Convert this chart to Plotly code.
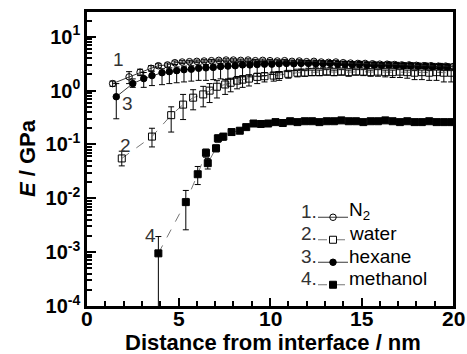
import plotly.graph_objects as go

# ---------------- data ----------------
n2_x = [1.4, 2.3, 2.9, 3.5, 3.9, 4.4, 4.8, 5.2, 5.6, 6.0, 6.4, 6.8, 7.2, 7.6, 8.0, 8.4, 8.8, 9.2, 9.6, 10.0,
        10.4, 10.8, 11.2, 11.6, 12.0, 12.4, 12.8, 13.2, 13.6, 14.0, 14.4, 14.8, 15.2, 15.6, 16.0, 16.4, 16.8,
        17.2, 17.6, 18.0, 18.4, 18.8, 19.2, 19.6, 20.0]
n2_y = [1.35, 1.8, 2.2, 2.6, 2.9, 3.0, 3.3, 3.4, 3.45, 3.5, 3.55, 3.6, 3.65, 3.7, 3.7, 3.65, 3.7, 3.6, 3.65, 3.6,
        3.55, 3.6, 3.5, 3.55, 3.45, 3.5, 3.4, 3.35, 3.4, 3.3, 3.25, 3.2, 3.2, 3.15, 3.1, 3.1, 3.05, 3.0, 3.0,
        2.95, 2.9, 2.9, 2.85, 2.85, 2.8]
n2_err = [0.15, 0.45, 0.3, 0.3, 0.25, 0.25, 0.25, 0.2, 0.2, 0.2, 0.2, 0.2, 0.2, 0.2, 0.2, 0.2, 0.2, 0.2, 0.2, 0.2,
          0.2, 0.2, 0.2, 0.2, 0.2, 0.2, 0.2, 0.2, 0.2, 0.2, 0.2, 0.2, 0.2, 0.2, 0.2, 0.2, 0.2, 0.2, 0.2,
          0.2, 0.2, 0.2, 0.2, 0.2, 0.2]

hex_x = [1.6, 2.5, 3.1, 3.55, 4.1, 4.5, 4.9, 5.3, 5.7, 6.1, 6.5, 6.9, 7.3, 7.7, 8.1, 8.5, 8.9, 9.3, 9.7, 10.1,
         10.5, 10.9, 11.3, 11.7, 12.1, 12.5, 12.9, 13.3, 13.7, 14.1, 14.5, 14.9, 15.3, 15.7, 16.1, 16.5, 16.9,
         17.3, 17.7, 18.1, 18.5, 18.9, 19.3, 19.7]
hex_y = [0.77, 1.35, 1.67, 1.9, 2.15, 2.25, 2.35, 2.45, 2.5, 2.6, 2.65, 2.7, 2.8, 2.85, 2.9, 3.0, 3.0, 3.05, 3.1,
         3.1, 3.15, 3.2, 3.15, 3.2, 3.2, 3.15, 3.15, 3.2, 3.1, 3.1, 3.05, 3.1, 3.0, 3.0, 2.95, 3.0, 2.95, 2.9,
         2.9, 2.85, 2.85, 2.8, 2.8, 2.75]
hex_err_up = [0.58, 0.3, 0.5, 0.4, 0.4, 0.4, 0.4, 0.4, 0.4, 0.4, 0.4, 0.4, 0.4, 0.4, 0.4, 0.4, 0.4, 0.4, 0.4,
              0.4, 0.4, 0.4, 0.4, 0.4, 0.4, 0.4, 0.4, 0.4, 0.4, 0.4, 0.4, 0.4, 0.4, 0.4, 0.4, 0.4, 0.4, 0.4,
              0.4, 0.4, 0.4, 0.4, 0.4, 0.4]
hex_err_dn = [0.47, 0.2, 0.52, 0.66, 0.86, 0.9, 0.95, 1.0, 1.0, 1.05, 1.1, 1.1, 1.15, 1.2, 1.2, 1.2, 1.2, 1.2,
              1.2, 1.1, 1.0, 0.9, 0.8, 0.7, 0.6, 0.5, 0.5, 0.5, 0.4, 0.4, 0.4, 0.4, 0.4, 0.3, 0.3, 0.3, 0.3,
              0.3, 0.3, 0.3, 0.3, 0.3, 0.3, 0.3]

wat_x = [1.9, 3.55, 4.6, 5.25, 5.8, 6.35, 6.7, 7.1, 7.55, 7.85, 8.2, 8.5, 8.85, 9.3, 9.7, 10.2, 10.5, 11.0,
         11.5, 11.9, 12.3, 12.7, 13.1, 13.5, 13.9, 14.3, 14.7, 15.1, 15.5, 15.9, 16.3, 16.7, 17.1, 17.5, 17.9,
         18.3, 18.7, 19.1, 19.5, 19.9]
wat_y = [0.055, 0.14, 0.35, 0.55, 0.74, 0.85, 1.0, 1.18, 1.3, 1.4, 1.53, 1.6, 1.67, 1.8, 1.85, 1.9, 1.95,
         2.05, 2.15, 2.15, 2.2, 2.2, 2.25, 2.2, 2.25, 2.2, 2.25, 2.25, 2.2, 2.25, 2.2, 2.2, 2.25, 2.2, 2.15,
         2.2, 2.15, 2.2, 2.15, 2.15]
wat_err_up = [0.02, 0.06, 0.15, 0.3, 0.3, 0.35, 0.35, 0.35, 0.3, 0.3, 0.3, 0.3, 0.3, 0.3, 0.3, 0.3, 0.3, 0.2,
              0.2, 0.2, 0.2, 0.2, 0.2, 0.2, 0.2, 0.2, 0.2, 0.2, 0.2, 0.2, 0.2, 0.2, 0.2, 0.2, 0.2, 0.2, 0.2,
              0.2, 0.2, 0.2]
wat_err_dn = [0.015, 0.05, 0.18, 0.26, 0.3, 0.35, 0.4, 0.45, 0.45, 0.45, 0.45, 0.45, 0.45, 0.45, 0.4, 0.4,
              0.4, 0.35, 0.35, 0.3, 0.3, 0.3, 0.3, 0.3, 0.3, 0.35, 0.3, 0.35, 0.35, 0.4, 0.4, 0.45, 0.5, 0.5,
              0.55, 0.6, 0.6, 0.65, 0.7, 0.7]

met_x = [3.9, 5.4, 6.05, 6.5, 6.6, 7.05, 7.15, 7.45, 7.9, 8.35, 8.7, 9.1, 9.5, 9.9, 10.3, 10.7, 11.1, 11.5,
         11.9, 12.3, 12.7, 13.1, 13.5, 13.9, 14.3, 14.7, 15.1, 15.5, 15.9, 16.3, 16.7, 17.1, 17.5, 17.9, 18.3,
         18.7, 19.1, 19.5, 19.9]
met_y = [0.00095, 0.0085, 0.028, 0.07, 0.045, 0.085, 0.13, 0.14, 0.17, 0.18, 0.21, 0.245, 0.24, 0.245, 0.26,
         0.25, 0.27, 0.26, 0.27, 0.27, 0.26, 0.27, 0.27, 0.28, 0.27, 0.27, 0.26, 0.27, 0.27, 0.28, 0.27, 0.26,
         0.27, 0.26, 0.26, 0.27, 0.26, 0.26, 0.26]
met_err_up = [0.001, 0.0055, 0.011, 0.012, 0.01, 0.012, 0.02, 0.02, 0.02, 0.02, 0.02, 0.02, 0.02, 0.02, 0.02,
              0.02, 0.02, 0.02, 0.02, 0.02, 0.02, 0.02, 0.02, 0.02, 0.02, 0.02, 0.02, 0.02, 0.02, 0.02, 0.02,
              0.02, 0.02, 0.02, 0.02, 0.02, 0.02, 0.02, 0.02]
met_err_dn = [0.00093, 0.0059, 0.01, 0.012, 0.01, 0.012, 0.02, 0.02, 0.02, 0.02, 0.02, 0.02, 0.02, 0.02, 0.02,
              0.02, 0.02, 0.02, 0.02, 0.02, 0.02, 0.02, 0.02, 0.02, 0.02, 0.02, 0.02, 0.02, 0.02, 0.02, 0.02,
              0.02, 0.02, 0.02, 0.02, 0.02, 0.02, 0.02, 0.02]

series_names = ["N<sub>2</sub>", "water", "hexane", "methanol"]
series_numbers = ["1.", "2.", "3.", "4."]
curve_labels = ["1", "2", "3", "4"]
y_tickvals = [1e-4, 1e-3, 1e-2, 1e-1, 1, 10]
y_ticktext = ["<b>10<sup>-4</sup></b>", "<b>10<sup>-3</sup></b>", "<b>10<sup>-2</sup></b>",
              "<b>10<sup>-1</sup></b>", "<b>10<sup>0</sup></b>", "<b>10<sup>1</sup></b>"]
x_tickvals = [0, 5, 10, 15, 20]
x_ticktext = ["0", "5", "10", "15", "20"]

FONT = "Liberation Sans, Arial, sans-serif"

fig = go.Figure()


def add(x, y, up, dn, symbol, dash, lcolor, rank):
    fig.add_trace(go.Scatter(
        x=x, y=y, name=" ", mode="lines+markers", legendrank=rank,
        line=dict(color=lcolor, width=0.9, dash=dash),
        marker=dict(symbol=symbol, size=7 if "square" in symbol else 6.5, color="black",
                    line=dict(color="black", width=1)),
        error_y=dict(type="data", array=up, arrayminus=dn, color="black", thickness=1, width=3),
    ))


add(met_x, met_y, met_err_up, met_err_dn, "square", "dash", "#666666", 4)
add(wat_x, wat_y, wat_err_up, wat_err_dn, "square-open", "dash", "#666666", 2)
add(hex_x, hex_y, hex_err_up, hex_err_dn, "circle", "solid", "#222222", 3)
add(n2_x, n2_y, n2_err, n2_err, "circle-open", "solid", "#222222", 1)


def px_x(p):
    return (p - 87) / 366


def px_y(p):
    return (306 - p) / 294


annotations = []
# x tick labels, tied to the x axis values
for v, t in zip(x_tickvals, x_ticktext):
    annotations.append(dict(x=v, y=px_y(318), xref="x", yref="paper", text="<b>" + t + "</b>",
                            showarrow=False, xanchor="center", yanchor="middle", borderpad=0,
                            font=dict(family=FONT, size=21, color="black")))
# curve number labels (data coords; y in log10 units)
for txt, ax, ay in zip(curve_labels, [1.7, 2.08, 2.2, 3.45], [0.57, -1.02, -0.24, -2.69]):
    annotations.append(dict(x=ax, y=ay, xref="x", yref="y", text=txt, showarrow=False,
                            font=dict(family=FONT, size=19, color="#333333")))
# legend numbers and names
row_px = [211, 234, 256, 278]
for t, name, rp in zip(series_numbers, series_names, row_px):
    annotations.append(dict(x=px_x(318), y=px_y(rp), xref="paper", yref="paper",
                            text=t, showarrow=False, xanchor="right", yanchor="middle", borderpad=0,
                            font=dict(family=FONT, size=19, color="#333333")))
    annotations.append(dict(x=px_x(348), y=px_y(rp), xref="paper", yref="paper",
                            text=name, showarrow=False, xanchor="left", yanchor="middle", borderpad=0,
                            font=dict(family=FONT, size=19, color="black")))
# axis titles
annotations.append(dict(x=0.508, y=px_y(342), xref="paper", yref="paper", yanchor="middle", borderpad=0,
                        text="<b>Distance from interface / nm</b>", showarrow=False,
                        font=dict(family=FONT, size=22, color="black")))
annotations.append(dict(x=-0.164, y=0.503, xref="paper", yref="paper", textangle=-90,
                        text="<b><i>E</i> / GPa</b>", showarrow=False, xanchor="center",
                        font=dict(family=FONT, size=22, color="black")))

fig.update_layout(
    width=467, height=354,
    margin=dict(l=87, r=14, t=12, b=48, autoexpand=False),
    paper_bgcolor="white", plot_bgcolor="white",
    font=dict(family=FONT, color="black"),
    showlegend=True,
    legend=dict(x=px_x(313), y=px_y(201), xanchor="left", yanchor="top", bgcolor="rgba(0,0,0,0)",
                font=dict(family=FONT, size=15, color="black"), itemwidth=30, tracegroupgap=0,
                borderwidth=0),
    annotations=annotations,
)
fig.update_xaxes(
    range=[0, 20], tickvals=x_tickvals, showticklabels=False, showgrid=False, zeroline=False,
    showline=True, linecolor="black", linewidth=2.5, mirror=True,
    ticks="inside", ticklen=8, tickwidth=2, tickcolor="black",
    minor=dict(dtick=1, ticks="inside", ticklen=5, tickwidth=1.5, tickcolor="black", showgrid=False),
)
fig.update_yaxes(
    type="log", range=[-4, 1.46], tickvals=y_tickvals, ticktext=y_ticktext, showgrid=False, zeroline=False,
    showline=True, linecolor="black", linewidth=2.5, mirror=True,
    ticks="inside", ticklen=9, tickwidth=2, tickcolor="black",
    tickfont=dict(family=FONT, size=20, color="black"),
    minor=dict(dtick="D1", ticks="inside", ticklen=5, tickwidth=1.5, tickcolor="black", showgrid=False),
)

fig.write_html("out.html")
